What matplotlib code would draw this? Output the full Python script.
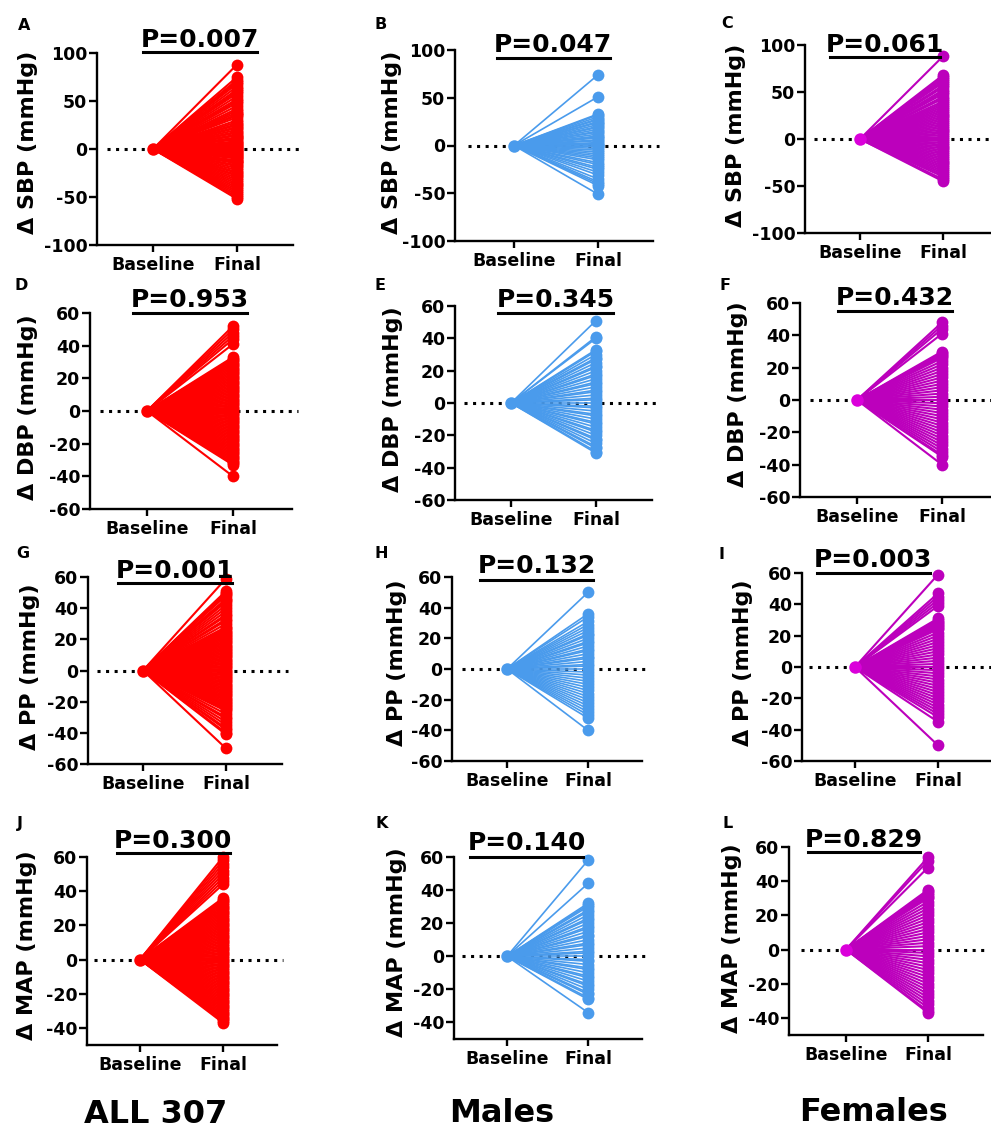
import numpy as np
import matplotlib
matplotlib.use("Agg")
import matplotlib.pyplot as plt
from matplotlib.lines import Line2D

plt.rcParams['font.family'] = ['DejaVu Sans']
plt.rcParams['font.weight'] = 'bold'
plt.rcParams['axes.unicode_minus'] = False

W, H = 991, 1131

# ---------------- data (final change values; baseline = 0) ----------------
x_labels = ["Baseline", "Final"]
col_titles = ["ALL 307", "Males", "Females"]
panel_letters = ["A", "B", "C", "D", "E", "F", "G", "H", "I", "J", "K", "L"]
y_labels = ["Δ SBP (mmHg)", "Δ DBP (mmHg)", "Δ PP (mmHg)", "Δ MAP (mmHg)"]
p_values = ["P=0.007", "P=0.047", "P=0.061",
            "P=0.953", "P=0.345", "P=0.432",
            "P=0.001", "P=0.132", "P=0.003",
            "P=0.300", "P=0.140", "P=0.829"]

sbp_all = [88, 75, 72, 70, 68, 65, 62, 60, 58, 55, 52, 50, 48, 45, 42, 40, 38, 36, 35, 33,
           30, 28, 26, 25, 23, 22, 20, 18, 17, 15, 14, 12, 11, 10, 8, 7, 6, 5, 4, 3, 2, 1,
           0, -1, -2, -3, -4, -5, -6, -7, -8, -9, -10, -12, -13, -14, -15, -17, -18, -20,
           -22, -24, -25, -27, -28, -30, -32, -34, -36, -38, -40, -42, -44, -46, -48, -50, -52]
sbp_males = [74, 51, 33, 32, 30, 28, 27, 25, 24, 22, 20, 19, 17, 15, 14, 12, 10, 9, 8, 6, 5,
             3, 2, 1, 0, -1, -3, -5, -7, -9, -11, -13, -15, -18, -20, -23, -25, -28, -31,
             -35, -38, -40, -42, -51]
sbp_females = [88, 68, 66, 64, 62, 60, 57, 55, 52, 50, 48, 45, 43, 40, 38, 36, 34, 32, 30,
               28, 26, 24, 22, 20, 18, 16, 14, 12, 10, 8, 6, 4, 2, 0, -2, -4, -6, -8, -10,
               -12, -14, -16, -18, -20, -22, -24, -26, -28, -30, -32, -34, -36, -38, -40,
               -43, -45]

dbp_all = [52, 50, 48, 46, 44, 41, 33, 32, 31, 30, 29, 28, 27, 26, 25, 24, 23, 22, 21, 20,
           19, 18, 17, 16, 15, 14, 13, 12, 11, 10, 9, 8, 7, 6, 5, 4, 3, 2, 1, 0, -1, -2, -3,
           -4, -5, -6, -7, -8, -9, -10, -11, -12, -13, -14, -15, -16, -17, -18, -19, -20,
           -21, -22, -23, -24, -25, -26, -27, -28, -29, -30, -31, -32, -33, -40]
dbp_males = [51, 41, 40, 33, 32, 30, 28, 27, 25, 23, 22, 20, 18, 17, 15, 13, 12, 10, 8, 7,
             5, 3, 2, 0, -2, -3, -5, -7, -8, -10, -12, -13, -15, -17, -18, -20, -22, -23,
             -25, -27, -28, -30, -31]
dbp_females = [48, 46, 44, 41, 30, 29, 28, 27, 26, 24, 22, 20, 18, 16, 14, 12, 10, 8, 6, 4,
               2, 0, -2, -4, -6, -8, -10, -12, -14, -16, -18, -20, -22, -24, -26, -28, -30,
               -32, -34, -35, -40]

pp_all = [59, 51, 50, 49, 48, 46, 45, 44, 42, 40, 38, 36, 35, 33, 32, 30, 28, 27, 26, 25,
          24, 23, 22, 21, 20, 19, 18, 17, 16, 15, 14, 13, 12, 11, 10, 9, 8, 7, 6, 5, 4, 3,
          2, 1, 0, -1, -2, -3, -4, -5, -6, -7, -8, -9, -10, -11, -12, -13, -14, -15, -16,
          -17, -18, -19, -20, -21, -22, -23, -24, -25, -26, -28, -30, -31, -33, -35, -37,
          -38, -40, -41, -50]
pp_males = [50, 36, 34, 31, 29, 27, 25, 23, 22, 20, 18, 17, 15, 13, 12, 10, 8, 7, 5, 3, 2,
            0, -2, -4, -6, -8, -10, -12, -14, -16, -18, -20, -22, -24, -26, -28, -30, -32, -40]
pp_females = [59, 47, 45, 43, 41, 39, 31, 30, 29, 28, 27, 26, 25, 24, 22, 20, 18, 16, 14,
              12, 10, 8, 6, 4, 2, 0, -2, -4, -6, -8, -10, -12, -14, -16, -18, -20, -22, -24,
              -26, -28, -30, -32, -35, -50]

map_all = [60, 58, 56, 54, 52, 50, 48, 46, 44, 36, 35, 34, 33, 32, 31, 30, 29, 28, 27, 26,
           25, 24, 23, 22, 21, 20, 19, 18, 17, 16, 15, 14, 13, 12, 11, 10, 9, 8, 7, 6, 5, 4,
           3, 2, 1, 0, -1, -2, -3, -4, -5, -6, -7, -8, -9, -10, -11, -12, -13, -14, -15, -16,
           -17, -18, -19, -20, -21, -22, -23, -24, -25, -26, -27, -28, -29, -30, -31, -32,
           -33, -34, -35, -36, -37]
map_males = [58, 44, 32, 31, 30, 28, 27, 25, 23, 22, 20, 18, 17, 15, 13, 12, 10, 8, 7, 5, 3,
             2, 0, -2, -3, -5, -7, -8, -10, -12, -13, -15, -17, -18, -20, -22, -23, -25, -26,
             -34]
map_females = [54, 52, 48, 35, 34, 33, 32, 31, 30, 28, 26, 24, 22, 20, 18, 16, 14, 12, 10, 8,
               6, 4, 2, 0, -2, -4, -6, -8, -10, -12, -14, -16, -18, -20, -22, -24, -26, -28,
               -30, -32, -34, -36, -37]

series = [sbp_all, sbp_males, sbp_females,
          dbp_all, dbp_males, dbp_females,
          pp_all, pp_males, pp_females,
          map_all, map_males, map_females]

# ---------------- styling / layout ----------------
line_colors = ["#FF0000", "#4A9BEC", "#BC00BC"]
base_colors = ["#FF0000", "#4A9BEC", "#DA00DA"]
line_widths = [1.5, 1.2, 1.5]

row_ylims = [(-100, 100), (-60, 60), (-60, 60), (-50, 60)]
row_yticks = [[-100, -50, 0, 50, 100], [-60, -40, -20, 0, 20, 40, 60],
              [-60, -40, -20, 0, 20, 40, 60], [-40, -20, 0, 20, 40, 60]]

# axes boxes in pixels: left, right, top, bottom, x of baseline, x of final
boxes = [(97, 293, 53, 245, 153, 237), (455, 653, 50, 241, 514, 598), (805, 990, 45, 233, 860, 943),
         (90, 292, 313, 509, 147, 233), (455, 652, 306, 500, 511, 596), (800, 990, 303, 497, 857, 942),
         (88, 282, 577, 764, 143, 226), (452, 642, 577, 761, 507, 588), (802, 990, 573, 761, 855, 938),
         (87, 277, 857, 1045, 140, 223), (454, 642, 857, 1039, 507, 588), (789, 983, 847, 1035, 846, 928)]
ylabel_pos = [(28, 142), (392, 142), (736, 135), (28, 407), (393, 399), (738, 394),
              (30, 667), (397, 663), (743, 663), (27, 945), (397, 942), (732, 938)]
letter_pos = [(24, 30), (381, 29), (727, 28), (21, 290), (380, 290), (725, 290),
              (23, 558), (381, 558), (721, 559), (20, 828), (382, 828), (728, 828)]
ptext_pos = [(200, 47), (553, 52), (885, 52), (190, 307), (556, 307), (895, 305),
             (175, 578), (537, 573), (873, 567), (173, 848), (527, 850), (864, 847)]
pbar = [(143, 257, 52), (497, 610, 58), (830, 940, 57), (133, 247, 313), (498, 613, 313),
        (838, 952, 311), (118, 232, 583), (480, 593, 580), (817, 930, 573), (117, 230, 853),
        (470, 583, 857), (808, 920, 852)]
title_pos = [(156, 1123), (502, 1122), (874, 1121)]

fig = plt.figure(figsize=(W / 100, H / 100), dpi=100)
fig.patch.set_facecolor("white")


def fx(px):
    return px / W


def fy(py):
    return 1 - py / H


for i, vals in enumerate(series):
    row, col = divmod(i, 3)
    l, r, t, b, xb, xf = boxes[i]
    ax = fig.add_axes([fx(l), fy(b), (r - l) / W, (b - t) / H])
    unit = xf - xb
    x0, x1 = (l - xb) / unit, (r - xb) / unit
    ax.set_xlim(x0, x1)
    ax.set_ylim(*row_ylims[row])
    vals = np.asarray(vals, dtype=float)
    n = len(vals)
    # zero reference line
    ax.plot([-0.55, x1 + 0.07], [0, 0], color="black", lw=2.2, ls=(0, (1, 1.8)),
            clip_on=False, zorder=1)
    xs = np.vstack([np.zeros(n), np.ones(n)])
    ys = np.vstack([np.zeros(n), vals])
    ax.plot(xs, ys, color=line_colors[col], lw=line_widths[col], zorder=2, clip_on=False)
    ax.plot(np.ones(n), vals, "o", color=line_colors[col], ms=8.5, mew=0,
            zorder=3, clip_on=False)
    ax.plot([0], [0], "o", color=base_colors[col], ms=9, mew=0, zorder=4, clip_on=False)

    for s in ["top", "right"]:
        ax.spines[s].set_visible(False)
    for s in ["left", "bottom"]:
        ax.spines[s].set_linewidth(1.7)
    ax.set_yticks(row_yticks[row])
    ax.set_xticks([0, 1])
    ax.set_xticklabels(x_labels)
    ax.tick_params(axis="y", length=6, width=1.7, pad=1, labelsize=12.5)
    ax.tick_params(axis="x", length=5, width=1.7, pad=3, labelsize=12.5)
    for lab in ax.get_xticklabels() + ax.get_yticklabels():
        lab.set_fontweight("bold")
    ax.patch.set_alpha(0)

    # y label
    yx, yy = ylabel_pos[i]
    fig.text(fx(yx), fy(yy), y_labels[row], rotation=90, ha="center", va="center",
             fontsize=16, fontweight="bold")
    # panel letter
    lx, ly = letter_pos[i]
    fig.text(fx(lx), fy(ly), panel_letters[i], ha="center", va="baseline",
             fontsize=11.5, fontweight="bold")
    # p-value and bar
    px_, py_ = ptext_pos[i]
    fig.text(fx(px_), fy(py_), p_values[i], ha="center", va="baseline",
             fontsize=18, fontweight="bold")
    bx1, bx2, by = pbar[i]
    fig.add_artist(Line2D([fx(bx1), fx(bx2)], [fy(by), fy(by)], color="black", lw=2.2))

for j, title in enumerate(col_titles):
    tx, ty = title_pos[j]
    fig.text(fx(tx), fy(ty), title, ha="center", va="baseline", fontsize=23,
             fontweight="bold")

fig.savefig("out.png", dpi=100, facecolor="white")
